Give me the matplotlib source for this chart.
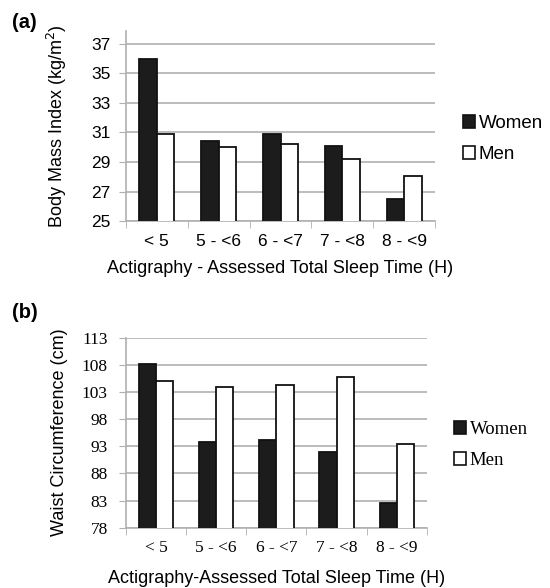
import numpy as np
import matplotlib
matplotlib.use("Agg")
import matplotlib.pyplot as plt
from matplotlib.patches import Patch

categories = ["< 5", "5 - <6", "6 - <7", "7 - <8", "8 - <9"]
bmi_women = [36.0, 30.4, 30.9, 30.1, 26.5]
bmi_men = [30.9, 30.0, 30.2, 29.2, 28.05]
waist_women = [108.1, 93.7, 94.2, 92.0, 82.6]
waist_men = [105.0, 103.9, 104.3, 105.8, 93.5]
bmi_ticks = [25, 27, 29, 31, 33, 35, 37]
waist_ticks = [78, 83, 88, 93, 98, 103, 108, 113]

sans = "Liberation Sans"
serif = "Liberation Serif"
grid_c = "#b0b0b0"


def draw_panel(ax, women, men, yticks, ylim, ylabel, xlabel, tick_font, leg_font, leg_anchor, ylab_x, ypad, xlpad):
    x = np.arange(len(categories)) + 0.5
    w = 0.285
    ax.bar(x - w / 2, women, w, color="#1c1c1c", edgecolor="#111111", linewidth=1.3, zorder=3)
    ax.bar(x + w / 2, men, w, color="white", edgecolor="#111111", linewidth=1.3, zorder=3)
    ax.set_ylim(*ylim)
    ax.set_xlim(0, len(categories))
    ax.set_yticks(yticks)
    ax.set_yticklabels([str(t) for t in yticks], fontfamily=tick_font, fontsize=12.5)
    ax.set_xticks(x)
    ax.set_xticklabels(categories, fontfamily=tick_font, fontsize=12.5)
    ax.set_xticks(np.arange(len(categories) + 1), minor=True)
    ax.tick_params(axis="x", which="major", length=0, pad=9)
    ax.tick_params(axis="x", which="minor", length=5, color=grid_c)
    ax.tick_params(axis="y", length=5, color=grid_c, pad=ypad)
    ax.grid(axis="y", color=grid_c, linewidth=1.2, zorder=0)
    for s in ["top", "right"]:
        ax.spines[s].set_visible(False)
    for s in ["left", "bottom"]:
        ax.spines[s].set_color(grid_c)
        ax.spines[s].set_linewidth(1.2)
    ax.set_ylabel(ylabel, fontfamily=sans, fontsize=13)
    ax.yaxis.set_label_coords(ylab_x, 0.5)
    ax.set_xlabel(xlabel, fontfamily=sans, fontsize=13, labelpad=xlpad)
    handles = [Patch(facecolor="#1c1c1c", edgecolor="#111111", linewidth=1.2),
               Patch(facecolor="white", edgecolor="#111111", linewidth=1.2)]
    ax.legend(handles, ["Women", "Men"], loc="center left", bbox_to_anchor=leg_anchor,
              frameon=False, handlelength=0.65, handleheight=0.65, handletextpad=0.2,
              labelspacing=0.75, borderaxespad=0, prop={"family": leg_font, "size": 13.5})


fig = plt.figure(figsize=(5.5, 5.88), dpi=100)
ax1 = fig.add_axes([0.229, 0.624, 0.562, 0.324])
ax2 = fig.add_axes([0.229, 0.1026, 0.547, 0.3231])

draw_panel(ax1, bmi_women, bmi_men, bmi_ticks, (25, 37.9), "Body Mass Index (kg/m$^2$)",
           "Actigraphy - Assessed Total Sleep Time (H)", sans, sans, (1.065, 0.43), -0.185, 6, 8)
draw_panel(ax2, waist_women, waist_men, waist_ticks, (78, 113), "Waist Circumference (cm)",
           "Actigraphy-Assessed Total Sleep Time (H)", serif, serif, (1.065, 0.435), -0.193, 8, 10)

fig.text(0.022, 0.962, "(a)", fontfamily=sans, fontsize=14.5, fontweight="bold", va="center")
fig.text(0.022, 0.469, "(b)", fontfamily=sans, fontsize=14.5, fontweight="bold", va="center")

fig.savefig("out.png", dpi=100)
